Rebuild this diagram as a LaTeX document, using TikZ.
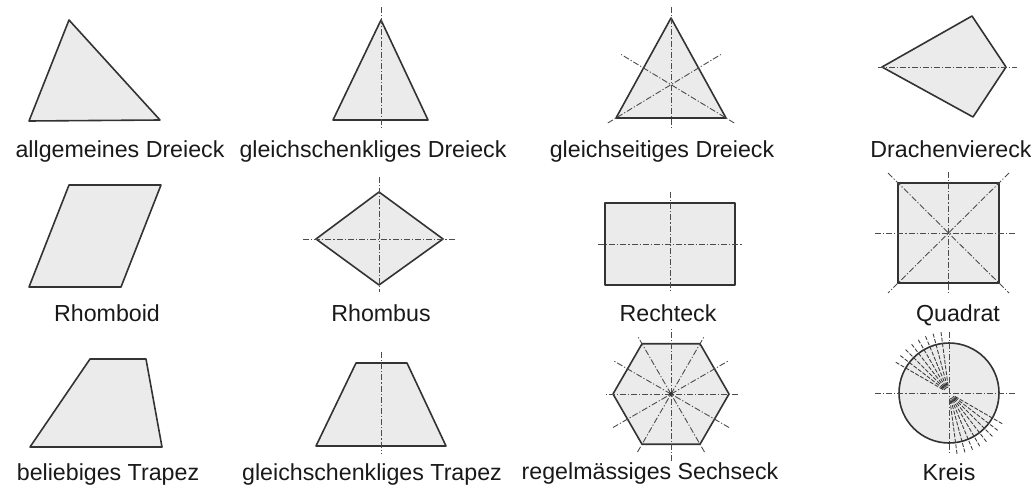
\documentclass[tikz,border=0pt]{standalone}
\usepackage{fontspec}
\setmainfont{Liberation Sans}
\usetikzlibrary{calc}

\begin{document}
\begin{tikzpicture}[x=0.5pt, y=-0.5pt,
    figur/.style={draw=black!80, fill=black!8, line width=0.8pt, line join=round},
    achse/.style={draw=black!70, line width=0.45pt, dash pattern=on 3pt off 1pt on 0.6pt off 1pt},
    strahl/.style={draw=black!75, line width=0.45pt, dash pattern=on 2pt off 0.8pt},
    lbl/.style={anchor=base, inner sep=0pt, text=black!90, font=\fontsize{11.6}{14}\selectfont}
]
    \useasboundingbox (0,0) rectangle (1031,487);

    % Reihe 1: Dreiecke und Drachen
    \draw[figur] (69,20) -- (29,121) -- (160,120) -- cycle;
    \node[lbl] (allg) at (120,157) {allgemeines Dreieck};

    \draw[figur] (381,20) -- (333,120) -- (428,120) -- cycle;
    \draw[achse] (381,7) -- (381,128);
    \node[lbl] (gsd) at (373,157) {gleichschenkliges Dreieck};

    \coordinate (ga) at (671,18);
    \coordinate (gl) at (616,118);
    \coordinate (gr) at (726,118);
    \draw[figur] (ga) -- (gl) -- (gr) -- cycle;
    \draw[achse] (671,7) -- (671,128);
    \draw[achse] ($(gl)!-0.1!($(ga)!0.5!(gr)$)$) -- ($(gl)!1.27!($(ga)!0.5!(gr)$)$);
    \draw[achse] ($(gr)!-0.1!($(ga)!0.5!(gl)$)$) -- ($(gr)!1.27!($(ga)!0.5!(gl)$)$);
    \node[lbl] (gsw) at (662,157) {gleichseitiges Dreieck};

    \draw[figur] (882,67) -- (972,16) -- (1006,67) -- (973,117) -- cycle;
    \draw[achse] (878,67) -- (1017,67);
    \node[lbl] (drv) at (951,157) {Drachenviereck};

    % Reihe 2: Vierecke
    \draw[figur] (69,185) -- (161,185) -- (121,287) -- (29,287) -- cycle;
    \node[lbl] (rhd) at (107,321) {Rhomboid};

    \draw[figur] (379,192) -- (443,239) -- (379,285) -- (316,239) -- cycle;
    \draw[achse] (379,177) -- (379,292);
    \draw[achse] (303,239) -- (455,239);
    \node[lbl] (rhb) at (381,321) {Rhombus};

    \draw[figur] (605,203) rectangle (735,285);
    \draw[achse] (670,192) -- (670,291);
    \draw[achse] (598,244) -- (743,244);
    \node[lbl] (rck) at (668,321) {Rechteck};

    \draw[figur] (898,183) rectangle (999,283);
    \draw[achse] (888,173) -- (1009,293);
    \draw[achse] (1009,173) -- (888,293);
    \draw[achse] (948.5,172) -- (948.5,293);
    \draw[achse] (875,233) -- (1017,233);
    \node[lbl] (qdr) at (958,321) {Quadrat};

    % Reihe 3: Trapeze, Sechseck, Kreis
    \draw[figur] (90,359) -- (146,359) -- (162,447) -- (30,447) -- cycle;
    \node[lbl] (btr) at (108,480) {beliebiges Trapez};

    \draw[figur] (356,363) -- (407,363) -- (446,446) -- (316,446) -- cycle;
    \draw[achse] (381,352) -- (381,454);
    \node[lbl] (gtr) at (372,480) {gleichschenkliges Trapez};

    \coordinate (sm) at (671,394);
    \draw[figur] ($(sm)+(58,0)$) \foreach \w in {60,120,...,300} { -- ($(sm)+(\w:58)$) } -- cycle;
    \foreach \w in {0,30,...,150}
        \draw[achse] ($(sm)+(\w:67)$) -- ($(sm)+(\w+180:67)$);
    \fill[black!80] (sm) circle (2);
    \node[lbl] (sse) at (650,479) {regelmässiges Sechseck};

    \coordinate (km) at (949,393);
    \draw[figur] (km) circle (50);
    \draw[achse] (875,393) -- (1017,393);
    \draw[achse] (949,332) -- (949,455);
    \foreach \w in {-150,-142.5,...,-97.5} {
        \draw[strahl] ($(km)+(\w:7)$) -- ($(km)+(\w:62)$);
        \draw[strahl] ($(km)+(\w+180:7)$) -- ($(km)+(\w+180:62)$);
    }
    \draw[black!80, line width=0.4pt] ($(km)+(-150:6)$) arc[start angle=-150, end angle=-97.5, radius=6];
    \draw[black!80, line width=0.4pt] ($(km)+(-150:9)$) arc[start angle=-150, end angle=-97.5, radius=9];
    \draw[black!80, line width=0.4pt] ($(km)+(30:6)$) arc[start angle=30, end angle=82.5, radius=6];
    \draw[black!80, line width=0.4pt] ($(km)+(30:9)$) arc[start angle=30, end angle=82.5, radius=9];
    \node[lbl] (krs) at (949,480) {Kreis};
\end{tikzpicture}
\end{document}
